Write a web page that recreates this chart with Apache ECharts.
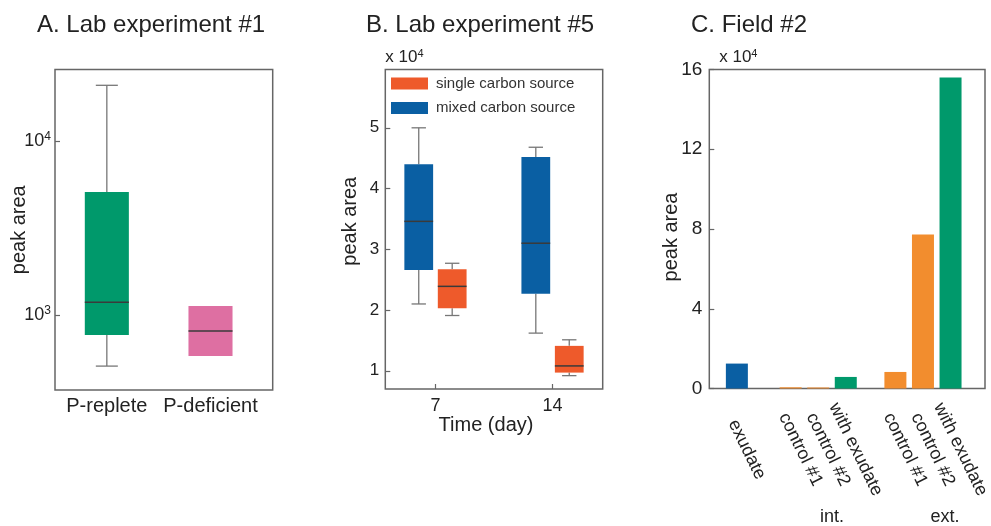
<!DOCTYPE html>
<html>
<head>
<meta charset="utf-8">
<script src="https://cdn.jsdelivr.net/npm/echarts@6/dist/echarts.min.js"></script>
<style>html,body{margin:0;padding:0;background:#fff}#chart{width:991px;height:526px}</style>
</head>
<body>
<div id="chart"></div>
<script>
// ---- Data ----
// A. Lab experiment #1 : [min, Q1, median, Q3, max]
const aCategories = ['P-replete', 'P-deficient'];
const aStats = [
  [509, 767, 1183, 5090, 20900],
  [581, 581, 809, 1126, 1126]
];
const aTicks = [1000, 10000];

// B. Lab experiment #5 (x 10^4) : [min, Q1, median, Q3, max]
const bDays = [7, 14];
const bSeriesNames = ['single carbon source', 'mixed carbon source'];
const bSingle = [
  [1.91, 2.03, 2.39, 2.67, 2.77],
  [0.92, 0.97, 1.08, 1.41, 1.51]
];
const bMixed = [
  [2.10, 2.66, 3.46, 4.40, 5.00],
  [1.62, 2.27, 3.10, 4.52, 4.68]
];
const bYTicks = [1, 2, 3, 4, 5];

// C. Field #2 (x 10^4)
const cLabels = ['exudate', 'control #1', 'control #2', 'with exudate', 'control #1', 'control #2', 'with exudate'];
const cSlots = [1, 2.95, 3.95, 4.95, 6.75, 7.75, 8.75];
const cValues = [1.25, 0.06, 0.05, 0.58, 0.83, 7.72, 15.6];
const cGroups = ['int.', 'ext.'];
const cYTicks = [0, 4, 8, 12, 16];

// ---- Styles ----
const FONT = 'Liberation Sans, Arial, sans-serif';
const TXT = '#222';
const FRAME = '#666';
const GREEN = '#00996B', PINK = '#DE6FA2', BLUE = '#0A5FA3', RED = '#EE5A2B', ORANGE = '#F28D2E';

function boxRenderer(offset, boxW, capFrac, colorFn) {
  return function (params, api) {
    const x = api.value(0) + offset;
    const v = [1, 2, 3, 4, 5].map(function (i) { return api.value(i); });
    const py = function (val) { return api.coord([x, val])[1]; };
    const cx = api.coord([x, v[2]])[0];
    const half = (api.coord([x + boxW / 2, v[2]])[0] - api.coord([x - boxW / 2, v[2]])[0]) / 2;
    const capHalf = half * capFrac;
    const yMin = py(v[0]), yQ1 = py(v[1]), yMed = py(v[2]), yQ3 = py(v[3]), yMax = py(v[4]);
    const wl = function () { return { stroke: '#777', lineWidth: 1.3, fill: null }; };
    const children = [];
    if (v[4] > v[3]) {
      children.push({ type: 'line', shape: { x1: cx, y1: yMax, x2: cx, y2: yQ3 }, style: wl() });
      children.push({ type: 'line', shape: { x1: cx - capHalf, y1: yMax, x2: cx + capHalf, y2: yMax }, style: wl() });
    }
    if (v[0] < v[1]) {
      children.push({ type: 'line', shape: { x1: cx, y1: yQ1, x2: cx, y2: yMin }, style: wl() });
      children.push({ type: 'line', shape: { x1: cx - capHalf, y1: yMin, x2: cx + capHalf, y2: yMin }, style: wl() });
    }
    children.push({ type: 'rect', shape: { x: cx - half, y: yQ3, width: 2 * half, height: yQ1 - yQ3 }, style: { fill: colorFn(params.dataIndex) } });
    children.push({ type: 'line', shape: { x1: cx - half, y1: yMed, x2: cx + half, y2: yMed }, style: { stroke: '#3a3a3a', lineWidth: 1.5 } });
    return { type: 'group', children: children };
  };
}

const supRich = function (base, sup) {
  return {
    b: { fontSize: base, fontFamily: FONT, color: TXT, lineHeight: base + 2 },
    s: { fontSize: sup, fontFamily: FONT, color: TXT, verticalAlign: 'top', lineHeight: base + 2 }
  };
};

const gridBase = { show: true, borderColor: FRAME, borderWidth: 1.5, backgroundColor: 'transparent', outerBoundsMode: 'none', containLabel: false };
const noLine = { show: false };
const tickIn = { show: true, inside: true, length: 5, lineStyle: { color: FRAME, width: 1.2 } };
const titleStyle = { fontSize: 24, fontWeight: 'normal', color: TXT, fontFamily: FONT };

const option = {
  animation: false,
  backgroundColor: '#fff',
  textStyle: { fontFamily: FONT },
  title: [
    { text: 'A. Lab experiment #1', left: 37, top: 13, padding: 0, textStyle: titleStyle },
    { text: 'B. Lab experiment #5', left: 366, top: 13, padding: 0, textStyle: titleStyle },
    { text: 'C. Field #2', left: 691, top: 13, padding: 0, textStyle: titleStyle }
  ],
  legend: {
    data: bSeriesNames,
    orient: 'vertical',
    left: 391, top: 76,
    itemWidth: 37, itemHeight: 12, itemGap: 9.5,
    icon: 'rect',
    padding: 0,
    textStyle: { fontSize: 15, color: '#333', fontFamily: FONT, padding: [0, 0, 0, 3] }
  },
  grid: [
    Object.assign({ left: 55, top: 69.5, width: 217.7, height: 320.5 }, gridBase),
    Object.assign({ left: 385.3, top: 69.5, width: 217.4, height: 319.5 }, gridBase),
    Object.assign({ left: 709.3, top: 69.5, width: 275.7, height: 319 }, gridBase)
  ],
  xAxis: [
    { // A
      type: 'value', gridIndex: 0, min: 0.5, max: 2.6, position: 'bottom',
      axisLine: noLine, splitLine: noLine,
      axisTick: { show: false },
      axisLabel: {
        customValues: aCategories.map(function (c, i) { return i + 1; }),
        formatter: function (v) { return aCategories[Math.round(v) - 1] || ''; },
        fontSize: 20, color: TXT, margin: 6
      }
    },
    { // B
      type: 'value', gridIndex: 1, min: 4, max: 17, position: 'bottom',
      axisLine: noLine, splitLine: noLine,
      axisTick: Object.assign({ customValues: bDays }, tickIn),
      axisLabel: { customValues: bDays, fontSize: 18, color: TXT, margin: 8 },
      name: 'Time (day)', nameLocation: 'middle', nameGap: 26, nameMoveOverlap: false,
      nameTextStyle: { fontSize: 20, color: TXT, padding: [0, 16, 0, 0] }
    },
    { // C main
      type: 'value', gridIndex: 2, min: 0, max: 10, position: 'bottom',
      axisLine: noLine, splitLine: noLine, axisTick: { show: false }, axisLabel: { show: false }
    },
    { // C category labels
      type: 'value', gridIndex: 2, min: -0.36, max: 9.64, position: 'bottom',
      axisLine: noLine, splitLine: noLine, axisTick: { show: false },
      axisLabel: {
        customValues: cSlots,
        formatter: function (v) {
          for (let i = 0; i < cSlots.length; i++) { if (Math.abs(cSlots[i] - v) < 1e-6) return cLabels[i]; }
          return '';
        },
        rotate: -64, align: 'center', verticalAlign: 'middle', margin: 61,
        fontSize: 18, color: TXT, hideOverlap: false
      }
    },
    { // C group labels
      type: 'value', gridIndex: 2, min: 0, max: 10, position: 'bottom',
      axisLine: noLine, splitLine: noLine, axisTick: { show: false },
      axisLabel: {
        customValues: [4.45, 8.55],
        formatter: function (v) { return v < 6 ? cGroups[0] : cGroups[1]; },
        align: 'center', verticalAlign: 'middle', margin: 129, fontSize: 18, color: TXT
      }
    }
  ],
  yAxis: [
    { // A
      type: 'log', logBase: 10, gridIndex: 0, min: 371, max: 25760, position: 'left',
      axisLine: noLine, splitLine: noLine, minorTick: { show: false },
      axisTick: Object.assign({ customValues: aTicks }, tickIn),
      axisLabel: {
        customValues: aTicks,
        formatter: function (v) { return '{b|10}{s|' + Math.round(Math.log10(v)) + '}'; },
        rich: supRich(18, 12), margin: 4
      },
      name: 'peak area', nameLocation: 'middle', nameGap: 26, nameMoveOverlap: false,
      nameTextStyle: { fontSize: 20, color: TXT }
    },
    { // B
      type: 'value', gridIndex: 1, min: 0.7, max: 5.96, position: 'left',
      axisLine: noLine, splitLine: noLine,
      axisTick: Object.assign({ customValues: bYTicks }, tickIn),
      axisLabel: { customValues: bYTicks, fontSize: 17, color: TXT, margin: 6 },
      name: 'peak area', nameLocation: 'middle', nameGap: 25, nameMoveOverlap: false,
      nameTextStyle: { fontSize: 20, color: TXT, padding: [0, 0, 0, 16] }
    },
    { // C
      type: 'value', gridIndex: 2, min: 0, max: 16, position: 'left',
      axisLine: noLine, splitLine: noLine,
      axisTick: Object.assign({ customValues: cYTicks }, tickIn),
      axisLabel: { customValues: cYTicks, fontSize: 19, color: TXT, margin: 7 },
      name: 'peak area', nameLocation: 'middle', nameGap: 28, nameMoveOverlap: false,
      nameTextStyle: { fontSize: 20, color: TXT, padding: [0, 16, 0, 0] }
    },
    { // B multiplier
      type: 'value', gridIndex: 1, min: 0.7, max: 5.96, position: 'left',
      axisLine: noLine, splitLine: noLine, axisTick: { show: false }, axisLabel: { show: false },
      name: '{b|x 10}{s|4}', nameLocation: 'end', nameGap: 12, nameMoveOverlap: false,
      nameTextStyle: { align: 'left', verticalAlign: 'middle', rich: supRich(17, 11) }
    },
    { // C multiplier
      type: 'value', gridIndex: 2, min: 0, max: 16, position: 'left',
      axisLine: noLine, splitLine: noLine, axisTick: { show: false }, axisLabel: { show: false },
      name: '{b|x 10}{s|4}', nameLocation: 'end', nameGap: 12, nameMoveOverlap: false,
      nameTextStyle: { align: 'left', verticalAlign: 'middle', rich: supRich(17, 11) }
    }
  ],
  series: [
    {
      name: 'A', type: 'custom', xAxisIndex: 0, yAxisIndex: 0,
      encode: { x: 0, y: [1, 2, 3, 4, 5] },
      data: aStats.map(function (s, i) { return [i + 1].concat(s); }),
      renderItem: boxRenderer(0, 0.425, 0.5, function (i) { return [GREEN, PINK][i]; })
    },
    {
      name: bSeriesNames[1], type: 'custom', xAxisIndex: 1, yAxisIndex: 1,
      itemStyle: { color: BLUE },
      encode: { x: 0, y: [1, 2, 3, 4, 5] },
      data: bDays.map(function (d, i) { return [d].concat(bMixed[i]); }),
      renderItem: boxRenderer(-1, 1.72, 0.5, function () { return BLUE; })
    },
    {
      name: bSeriesNames[0], type: 'custom', xAxisIndex: 1, yAxisIndex: 1,
      itemStyle: { color: RED },
      encode: { x: 0, y: [1, 2, 3, 4, 5] },
      data: bDays.map(function (d, i) { return [d].concat(bSingle[i]); }),
      renderItem: boxRenderer(1, 1.72, 0.5, function () { return RED; })
    },
    {
      name: 'C', type: 'bar', xAxisIndex: 2, yAxisIndex: 2,
      barWidth: 22,
      data: cValues.map(function (v, i) { return [cSlots[i], v]; }),
      itemStyle: {
        color: function (p) {
          const l = cLabels[p.dataIndex];
          return l === 'exudate' ? BLUE : (l.indexOf('control') === 0 ? ORANGE : GREEN);
        }
      }
    }
  ]
};

const chart = echarts.init(document.getElementById('chart'), null, { renderer: 'canvas' });
chart.setOption(option);
</script>
</body>
</html>
